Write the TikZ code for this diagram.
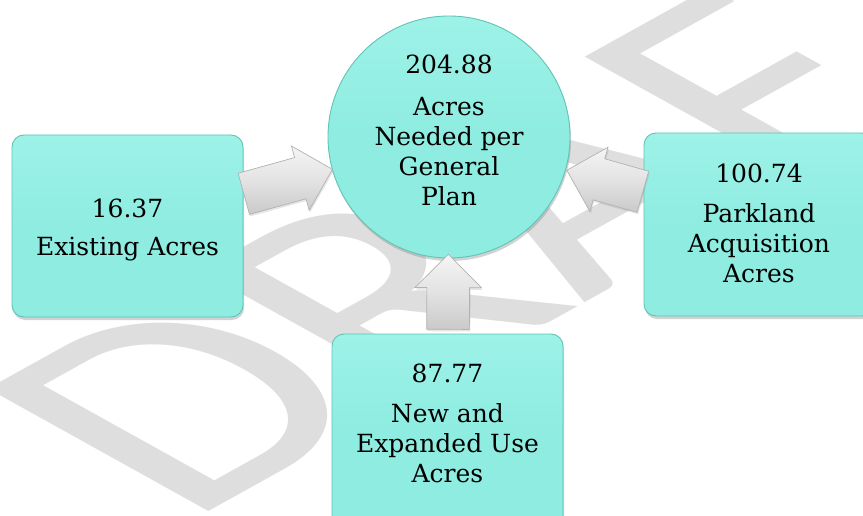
\documentclass[tikz,border=0pt]{standalone}
\usepackage{fontspec}
\setmainfont{DejaVu Serif}
\newfontfamily\wmfont{Carlito}
\usetikzlibrary{shapes.arrows,shadows,calc}
\definecolor{tealfill}{RGB}{142,236,224}
\definecolor{tealtop}{RGB}{158,242,232}
\definecolor{tealedge}{RGB}{96,196,182}
\definecolor{wmgray}{RGB}{222,222,222}
\tikzset{
  boxshape/.style={rectangle, rounded corners=12pt, top color=tealtop, bottom color=tealfill, middle color=tealfill,
    draw=tealedge, line width=0.9pt, inner sep=0pt,
    drop shadow={opacity=0.35, shadow xshift=1pt, shadow yshift=-3pt}},
  circshape/.style={circle, top color=tealtop, bottom color=tealfill, middle color=tealfill,
    draw=tealedge, line width=0.9pt, inner sep=0pt,
    drop shadow={opacity=0.35, shadow xshift=1pt, shadow yshift=-3pt}},
  label/.style={align=center, font=\fontsize{25}{30}\selectfont, inner sep=0pt, text=black},
  blockarrow/.style={single arrow, single arrow head extend=12pt, inner xsep=0pt, inner ysep=21pt,
    draw=gray!60, line width=0.7pt, top color=gray!8, bottom color=gray!42, middle color=gray!22,
    drop shadow={opacity=0.2, shadow xshift=1pt, shadow yshift=-2pt}},
}
\begin{document}
\begin{tikzpicture}[x=1pt,y=-1pt]
\useasboundingbox (0,0) rectangle (863,516);
\clip (0,0) rectangle (863,516);
\fill[white] (0,0) rectangle (863,516);
% watermark
\begin{scope}[xscale=1.8, transform shape]
  \node[rotate=45, font=\wmfont\fontsize{270}{270}\selectfont, text=wmgray, inner sep=0pt] (wmk) at (298,207) {DRAFT};
\end{scope}
% shapes
\node[boxshape, minimum width=231pt, minimum height=182pt] (L) at (127.5,226) {};
\node[boxshape, minimum width=230pt, minimum height=183pt] (R) at (759,224.5) {};
\node[boxshape, minimum width=231pt, minimum height=196pt] (B) at (447.5,432) {};
\node[circshape, minimum size=242pt] (C) at (449,137) {};
% arrows
\path ($(L.center)!110pt!(C.center)$) -- ($(L.center)!202pt!(C.center)$)
  node[blockarrow, midway, sloped, minimum height=92pt] (aL) {};
\path ($(R.center)!110pt!(C.center)$) -- ($(R.center)!189pt!(C.center)$)
  node[blockarrow, midway, sloped, allow upside down, minimum height=79pt] (aR) {};
\path ($(B.center)!92pt!(C.center)$) -- ($(B.center)!167pt!(C.center)$)
  node[blockarrow, midway, sloped, minimum height=75pt] (aB) {};
% texts
\node[label] (Ct) at (449,130.4) {204.88\\[13pt]Acres\\Needed per\\General\\Plan};
\node[label] (Lt) at (127.5,229.9) {16.37\\[8pt]Existing Acres};
\node[label] (Rt) at (759,222.9) {100.74\\[10pt]Parkland\\Acquisition\\Acres};
\node[label] (Bt) at (447.5,423.4) {87.77\\[10pt]New and\\Expanded Use\\Acres};
\end{tikzpicture}
\end{document}
